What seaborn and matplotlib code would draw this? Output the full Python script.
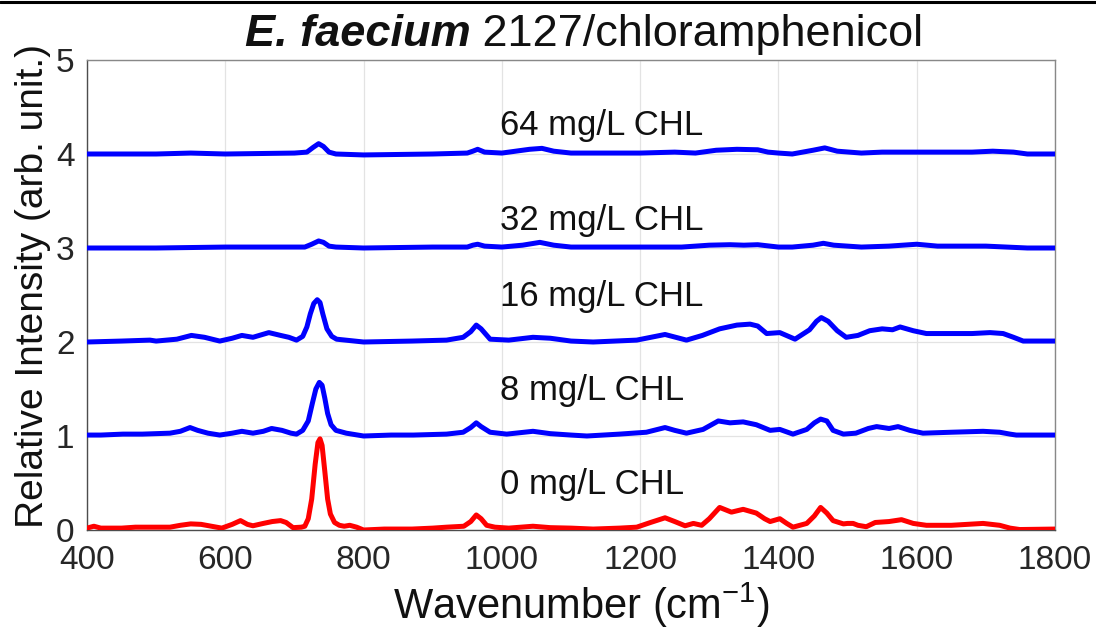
import matplotlib
matplotlib.use("Agg")
import matplotlib.pyplot as plt
import seaborn as sns
import pandas as pd
from matplotlib.lines import Line2D

# ---------------- data ----------------
wn_0 = [400, 410, 420, 450, 470, 490, 520, 535, 550, 565, 580, 595, 610, 622, 632, 640, 655, 668, 680, 688, 698,
        710, 715, 720, 725, 730, 734, 737, 740, 744, 748, 752, 758, 765, 772, 780, 790, 800, 830, 870, 900, 920,
        945, 955, 963, 970, 978, 990, 1010, 1045, 1070, 1100, 1132, 1170, 1195, 1215, 1236, 1250, 1265, 1277,
        1289, 1300, 1315, 1332, 1349, 1368, 1380, 1388, 1402, 1412, 1421, 1441, 1452, 1461, 1470, 1479, 1494,
        1500, 1508, 1515, 1527, 1540, 1560, 1578, 1595, 1614, 1650, 1696, 1720, 1735, 1749, 1800]
int_0 = [0.02, 0.04, 0.02, 0.02, 0.03, 0.03, 0.03, 0.05, 0.065, 0.06, 0.04, 0.02, 0.06, 0.10, 0.06, 0.045, 0.07,
         0.09, 0.10, 0.08, 0.025, 0.03, 0.04, 0.12, 0.33, 0.70, 0.93, 0.97, 0.90, 0.62, 0.33, 0.17, 0.08, 0.05,
         0.04, 0.05, 0.03, 0.00, 0.01, 0.01, 0.02, 0.03, 0.04, 0.09, 0.16, 0.12, 0.05, 0.03, 0.02, 0.04, 0.025,
         0.02, 0.01, 0.02, 0.03, 0.08, 0.13, 0.09, 0.045, 0.07, 0.05, 0.12, 0.24, 0.19, 0.22, 0.18, 0.12, 0.09,
         0.12, 0.07, 0.03, 0.07, 0.15, 0.24, 0.18, 0.10, 0.065, 0.07, 0.07, 0.05, 0.035, 0.08, 0.09, 0.11, 0.07,
         0.05, 0.05, 0.07, 0.05, 0.02, 0.005, 0.01]

wn_8 = [400, 420, 452, 480, 520, 535, 549, 560, 575, 592, 610, 624, 640, 655, 667, 682, 695, 703, 712, 720,
        726, 731, 736, 740, 744, 748, 753, 760, 775, 800, 840, 872, 920, 944, 955, 963, 970, 983, 1007, 1045,
        1070, 1100, 1123, 1170, 1209, 1236, 1250, 1267, 1291, 1313, 1330, 1349, 1368, 1388, 1402, 1421, 1441,
        1452, 1461, 1470, 1479, 1494, 1512, 1530, 1542, 1560, 1573, 1590, 1609, 1650, 1696, 1720, 1735, 1744,
        1800]
int_8 = [1.01, 1.01, 1.02, 1.02, 1.03, 1.05, 1.09, 1.06, 1.03, 1.01, 1.03, 1.05, 1.03, 1.05, 1.08, 1.06, 1.03,
         1.02, 1.06, 1.16, 1.35, 1.50, 1.57, 1.54, 1.40, 1.24, 1.12, 1.06, 1.03, 1.00, 1.01, 1.01, 1.02, 1.04,
         1.09, 1.14, 1.10, 1.04, 1.02, 1.05, 1.025, 1.01, 1.00, 1.02, 1.04, 1.09, 1.06, 1.03, 1.07, 1.16, 1.14,
         1.15, 1.12, 1.06, 1.07, 1.02, 1.07, 1.14, 1.18, 1.16, 1.06, 1.02, 1.03, 1.08, 1.10, 1.08, 1.10, 1.06,
         1.03, 1.04, 1.05, 1.04, 1.02, 1.01, 1.01]

wn_16 = [400, 450, 491, 500, 530, 551, 570, 592, 610, 624, 640, 663, 680, 692, 703, 712, 718, 723, 728, 733,
         737, 741, 747, 754, 761, 800, 870, 920, 944, 955, 963, 970, 983, 1010, 1045, 1070, 1100, 1132, 1195,
         1236, 1267, 1290, 1315, 1340, 1359, 1370, 1383, 1402, 1424, 1445, 1455, 1462, 1472, 1485, 1498, 1515,
         1532, 1550, 1565, 1576, 1595, 1614, 1650, 1680, 1706, 1725, 1740, 1754, 1800]
int_16 = [2.00, 2.01, 2.02, 2.01, 2.03, 2.07, 2.05, 2.01, 2.04, 2.07, 2.05, 2.10, 2.07, 2.05, 2.02, 2.06, 2.16,
          2.30, 2.41, 2.45, 2.42, 2.30, 2.14, 2.06, 2.03, 2.00, 2.01, 2.02, 2.05, 2.11, 2.18, 2.14, 2.03, 2.02,
          2.05, 2.04, 2.01, 2.00, 2.02, 2.08, 2.02, 2.07, 2.14, 2.18, 2.19, 2.17, 2.09, 2.10, 2.03, 2.13, 2.22,
          2.26, 2.22, 2.12, 2.05, 2.07, 2.12, 2.14, 2.13, 2.16, 2.12, 2.09, 2.09, 2.09, 2.10, 2.09, 2.05, 2.01,
          2.01]

wn_32 = [400, 500, 600, 700, 715, 725, 735, 742, 750, 760, 800, 900, 950, 958, 965, 975, 1000, 1030, 1055,
         1075, 1100, 1200, 1260, 1300, 1330, 1350, 1370, 1400, 1420, 1450, 1465, 1480, 1520, 1560, 1600, 1630,
         1700, 1760, 1800]
int_32 = [3.00, 3.00, 3.01, 3.01, 3.01, 3.04, 3.075, 3.06, 3.02, 3.01, 3.00, 3.01, 3.01, 3.03, 3.04, 3.02, 3.01,
          3.03, 3.06, 3.03, 3.01, 3.01, 3.01, 3.03, 3.035, 3.03, 3.035, 3.01, 3.01, 3.03, 3.05, 3.03, 3.01, 3.02,
          3.04, 3.02, 3.02, 3.00, 3.00]

wn_64 = [400, 500, 550, 600, 700, 718, 727, 735, 742, 750, 760, 800, 900, 950, 958, 965, 975, 1000, 1040, 1058,
         1075, 1100, 1200, 1250, 1280, 1310, 1340, 1370, 1385, 1400, 1420, 1450, 1467, 1485, 1520, 1550, 1580,
         1620, 1680, 1710, 1740, 1760, 1800]
int_64 = [4.00, 4.00, 4.01, 4.00, 4.01, 4.02, 4.07, 4.11, 4.08, 4.02, 4.00, 3.99, 4.00, 4.01, 4.03, 4.05, 4.02,
          4.01, 4.05, 4.06, 4.03, 4.01, 4.01, 4.02, 4.01, 4.04, 4.05, 4.045, 4.02, 4.01, 4.00, 4.04, 4.065, 4.03,
          4.01, 4.02, 4.02, 4.02, 4.02, 4.03, 4.02, 4.00, 4.00]

labels = ["0 mg/L CHL", "8 mg/L CHL", "16 mg/L CHL", "32 mg/L CHL", "64 mg/L CHL"]
label_x = [998, 998, 998, 998, 998]
label_y = [0.48, 1.48, 2.48, 3.29, 4.30]
x_ticks = [400, 600, 800, 1000, 1200, 1400, 1600, 1800]
y_ticks = [0, 1, 2, 3, 4, 5]

# ---------------- build table ----------------
frames = []
for name, w, v in [(labels[0], wn_0, int_0), (labels[1], wn_8, int_8), (labels[2], wn_16, int_16),
                   (labels[3], wn_32, int_32), (labels[4], wn_64, int_64)]:
    frames.append(pd.DataFrame({"wavenumber": w, "intensity": v, "sample": name}))
df = pd.concat(frames, ignore_index=True)

sns.set_theme(style="white")
plt.rcParams["font.family"] = ["Liberation Sans", "DejaVu Sans"]
plt.rcParams["mathtext.fontset"] = "custom"
plt.rcParams["mathtext.rm"] = "Liberation Sans"
plt.rcParams["mathtext.it"] = "Liberation Sans:italic"
plt.rcParams["mathtext.bf"] = "Liberation Sans:bold"

fig = plt.figure(figsize=(10.96, 6.28), dpi=100)
ax = fig.add_axes([87 / 1096, 1 - 530 / 628, (1055 - 87) / 1096, (530 - 60) / 628])

palette = {labels[0]: "#ff0000", labels[1]: "#0000ff", labels[2]: "#0000ff",
           labels[3]: "#0000ff", labels[4]: "#0000ff"}
sns.lineplot(data=df, x="wavenumber", y="intensity", hue="sample", palette=palette,
             linewidth=3.6, legend=False, ax=ax, sort=False, estimator=None, zorder=3)
for ln in ax.get_lines():
    ln.set_solid_joinstyle("round")
    ln.set_solid_capstyle("round")

ax.set_xlim(400, 1800)
ax.set_ylim(0, 5)
ax.set_xticks(x_ticks)
ax.set_yticks(y_ticks)
ax.grid(True, color="#e3e3e3", linewidth=0.9)
ax.set_axisbelow(True)
ax.tick_params(axis="both", length=0, labelsize=24, labelcolor="#262626")
ax.tick_params(axis="x", pad=11)
ax.tick_params(axis="y", pad=9)
for side in ["left", "bottom"]:
    ax.spines[side].set_color("#4d4d4d")
    ax.spines[side].set_linewidth(1.0)
for side in ["right", "top"]:
    ax.spines[side].set_color("#888888")
    ax.spines[side].set_linewidth(1.0)

ax.set_xlabel("Wavenumber (cm$^{-1}$)", fontsize=30, color="#111111")
ax.set_ylabel("Relative Intensity (arb. unit.)", fontsize=28, color="#111111")
ax.xaxis.set_label_coords(0.511, -0.107)
ax.yaxis.set_label_coords(-0.037, 0.52)

for t, x, y in zip(labels, label_x, label_y):
    ax.text(x, y, t, fontsize=25, ha="left", va="center", color="#111111", zorder=4)

# title: bold-italic species name + regular rest
t1 = fig.text(0, 1 - 46 / 628, "E. faecium", fontsize=32.5, fontweight="bold", fontstyle="italic",
              va="baseline", ha="left", color="#111111")
t2 = fig.text(0, 1 - 46 / 628, " 2127/chloramphenicol", fontsize=32.5, va="baseline", ha="left",
              color="#111111")
fig.canvas.draw()
r = fig.canvas.get_renderer()
w1 = t1.get_window_extent(r).width
w2 = t2.get_window_extent(r).width
cx = 584
x0 = cx - (w1 + w2) / 2
t1.set_x(x0 / 1096)
t2.set_x((x0 + w1) / 1096)

# page rule at the very top
fig.add_artist(Line2D([0, 1], [1 - 1.5 / 628, 1 - 1.5 / 628], color="black", linewidth=2.2,
                      transform=fig.transFigure))

fig.savefig("out.png", dpi=100)
